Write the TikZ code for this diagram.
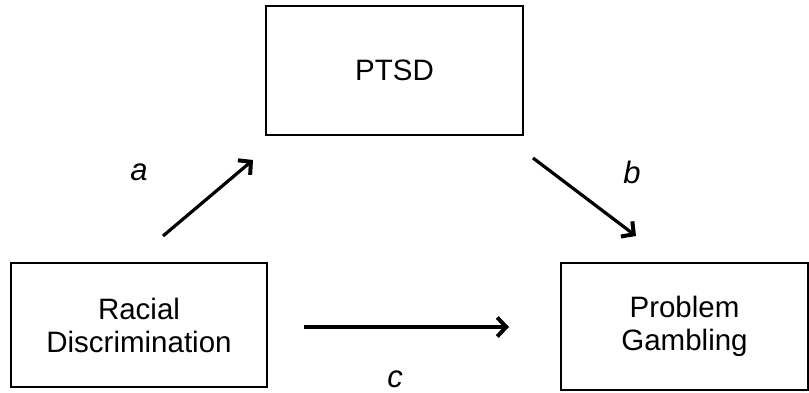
\documentclass[tikz,border=0pt]{standalone}
\usepackage{fontspec}
\setmainfont{Liberation Sans}
\usetikzlibrary{arrows.meta}
\begin{document}
\begin{tikzpicture}[x=1pt,y=-1pt,
  varbox/.style={draw, line width=2pt, inner sep=0pt, align=center,
    font=\fontsize{29.5}{33}\selectfont},
  pathlabel/.style={font=\fontsize{31}{33}\selectfont\itshape},
  thinarrow/.style={line width=3.2pt, -{Straight Barb[length=9pt,width=19pt,line width=4pt]}},
  thickarrow/.style={line width=4.5pt, -{Straight Barb[length=9pt,width=19pt,line width=4pt]}}]
\useasboundingbox (0,0) rectangle (809,393);
\node[varbox, minimum width=257pt, minimum height=129pt] (ptsd) at (394.5,70.5) {PTSD};
\node[varbox, minimum width=256pt, minimum height=124pt] (rd) at (139,325) {Racial\\Discrimination};
\node[varbox, minimum width=247pt, minimum height=127pt] (pg) at (684.5,326.5) {Problem\\Gambling};
\coordinate (atail) at (163,236);
\coordinate (ahead) at (253,160);
\coordinate (btail) at (533,158);
\coordinate (bhead) at (636,236);
\coordinate (ctail) at (304,327);
\coordinate (chead) at (509,327);
\draw[thinarrow] (atail) -- (ahead);
\draw[thinarrow] (btail) -- (bhead);
\draw[thickarrow] (ctail) -- (chead);
\node[pathlabel] (la) at (139,172) {a};
\node[pathlabel] (lb) at (632,172) {b};
\node[pathlabel] (lc) at (395,379) {c};
\end{tikzpicture}
\end{document}
